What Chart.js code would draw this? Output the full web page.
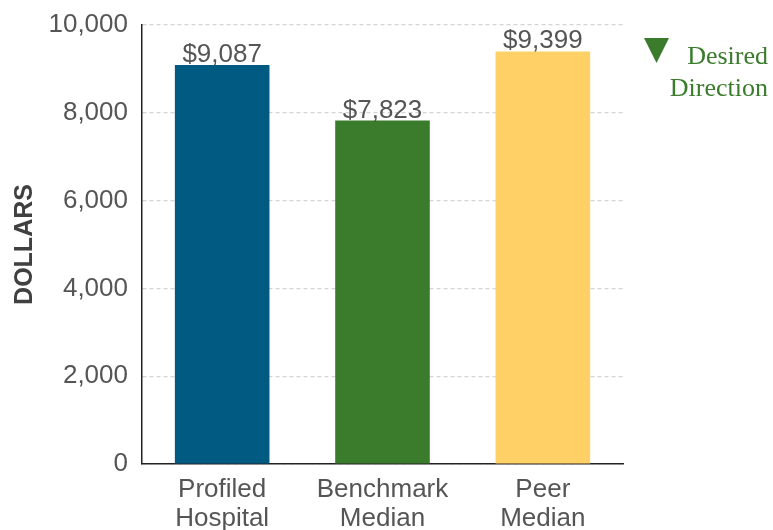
<!DOCTYPE html>
<html>
<head>
<meta charset="utf-8">
<script src="https://cdn.jsdelivr.net/npm/chart.js@4/dist/chart.umd.min.js"></script>
<style>
  html, body { margin: 0; padding: 0; background: #fff; }
  #wrap { width: 773px; height: 530px; }
</style>
</head>
<body>
<div id="wrap"><canvas id="costChart" width="773" height="530"></canvas></div>
<script>
const categories = [['Profiled', 'Hospital'], ['Benchmark', 'Median'], ['Peer', 'Median']];
const values = [9087, 7823, 9399];
const barColors = ['#005a82', '#3a7b2c', '#fed066'];
const yTicks = [0, 2000, 4000, 6000, 8000, 10000];
const legendLines = ['Desired', 'Direction'];

const textGray = '#555555';
const legendGreen = '#3a7b2c';

// dollar labels sitting on top of each bar
const valueLabels = {
    id: 'valueLabels',
    afterDatasetsDraw(chart) {
        const c = chart.ctx;
        const meta = chart.getDatasetMeta(0);
        c.save();
        c.font = '26px "Liberation Sans", Arial, sans-serif';
        c.fillStyle = textGray;
        c.textAlign = 'center';
        c.textBaseline = 'alphabetic';
        meta.data.forEach((bar, i) => {
            c.fillText('$' + values[i].toLocaleString('en-US'), bar.x, bar.y - 3);
        });
        c.restore();
    }
};

// "Desired Direction" marker at top right
const directionNote = {
    id: 'directionNote',
    afterDraw(chart) {
        const c = chart.ctx;
        c.save();
        c.fillStyle = legendGreen;
        c.beginPath();
        c.moveTo(644, 38);
        c.lineTo(669, 38);
        c.lineTo(656.5, 63);
        c.closePath();
        c.fill();
        c.font = '26px "Liberation Serif", "Times New Roman", serif';
        c.textAlign = 'right';
        c.textBaseline = 'alphabetic';
        c.fillText(legendLines[0], 768, 64);
        c.fillText(legendLines[1], 768, 96);
        c.restore();
    }
};

new Chart(document.getElementById('costChart'), {
    type: 'bar',
    data: {
        labels: categories,
        datasets: [{
            data: values,
            backgroundColor: barColors,
            borderWidth: 0,
            barPercentage: 0.59,
            categoryPercentage: 1
        }]
    },
    options: {
        responsive: false,
        animation: false,
        events: [],
        layout: { padding: { top: 25, right: 150, left: 0, bottom: 0 } },
        plugins: {
            legend: { display: false },
            tooltip: { enabled: false }
        },
        scales: {
            x: {
                grid: { display: false, drawTicks: false },
                border: { display: true, color: '#222', width: 1.5 },
                ticks: {
                    color: textGray,
                    padding: 11,
                    maxRotation: 0,
                    autoSkip: false,
                    font: { family: '"Liberation Sans", Arial, sans-serif', size: 26, lineHeight: 1.12 }
                },
                afterFit(scale) { scale.height = 66; }
            },
            y: {
                min: 0,
                max: 10000,
                afterBuildTicks(scale) { scale.ticks = yTicks.map(v => ({ value: v })); },
                grid: {
                    color: '#d4d4d4',
                    lineWidth: 1.2,
                    drawTicks: false
                },
                border: { display: true, color: '#222', width: 1.5, dash: [4, 3] },
                ticks: {
                    color: textGray,
                    padding: 14,
                    font: { family: '"Liberation Sans", Arial, sans-serif', size: 26 },
                    callback: v => v.toLocaleString('en-US')
                },
                title: {
                    display: true,
                    text: 'DOLLARS',
                    color: '#404040',
                    padding: { top: 10, bottom: 4 },
                    font: { family: '"Liberation Sans", Arial, sans-serif', size: 25, weight: 'bold' }
                },
                afterFit(scale) {
                    scale.width = 142;
                    scale.paddingTop = 0;
                    scale.paddingBottom = 0;
                }
            }
        }
    },
    plugins: [valueLabels, directionNote]
});
</script>
</body>
</html>
